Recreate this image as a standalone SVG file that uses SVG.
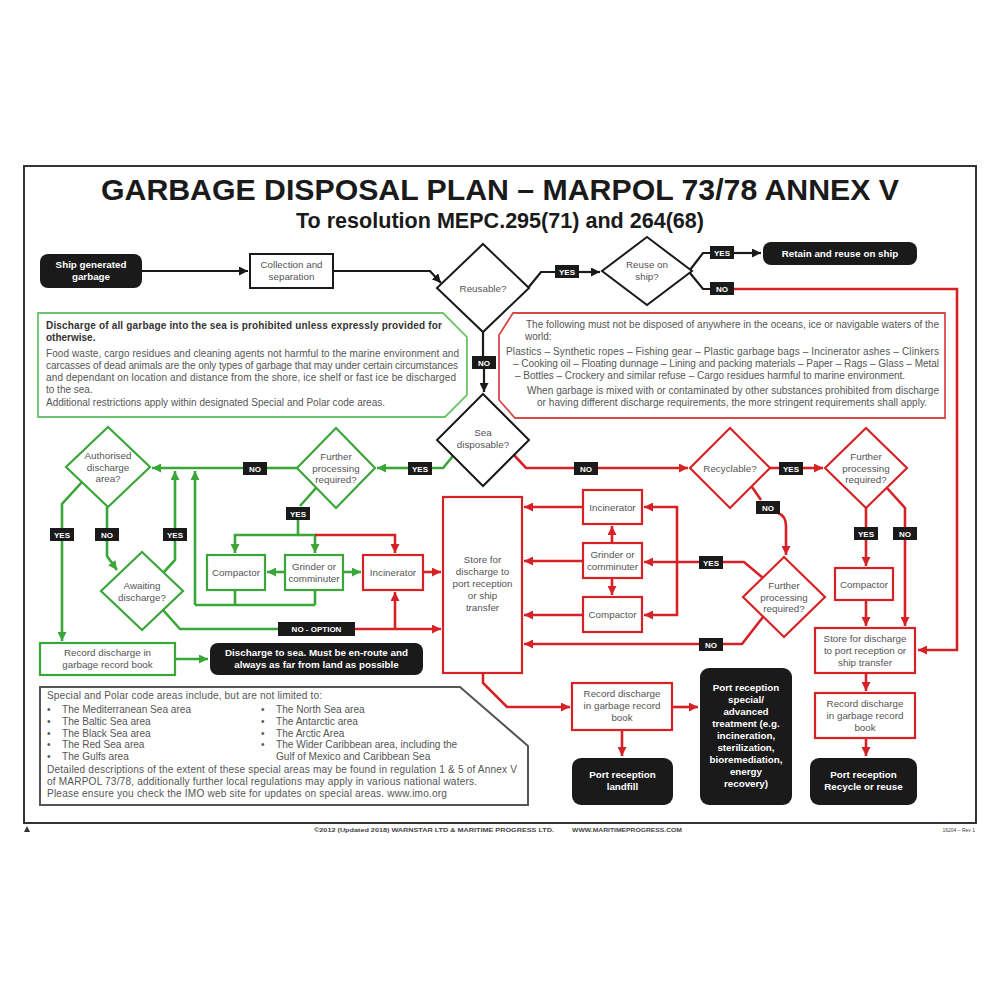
<svg xmlns="http://www.w3.org/2000/svg" width="1000" height="1000" viewBox="0 0 1000 1000">
<defs>
<style>
text{font-family:"Liberation Sans",Arial,sans-serif}
.t{font-size:9.8px;fill:#555;text-anchor:middle}
.tw{font-size:9.8px;fill:#fff;font-weight:bold;text-anchor:middle}
.lt{font-size:8px;fill:#fff;font-weight:bold;text-anchor:middle}
.lb{fill:#1a1a1a}
.k{stroke:#1a1a1a;stroke-width:2.2;fill:none}
.g{stroke:#3aa63a;stroke-width:2.6;fill:none}
.r{stroke:#d62226;stroke-width:2.6;fill:none}
.kb{stroke:#1a1a1a;stroke-width:2;fill:#fff}
.gb{stroke:#3aa63a;stroke-width:2.2;fill:#fff}
.rb{stroke:#d62226;stroke-width:2.2;fill:#fff}
.blk{fill:#1a1a1a}
.p{font-size:10px;fill:#555}
.pb{font-size:10px;fill:#333;font-weight:bold}
.s{font-size:10.1px;fill:#555}
</style>
<marker id="ak" viewBox="0 0 10 10" refX="10" refY="5" markerWidth="9" markerHeight="9" markerUnits="userSpaceOnUse" orient="auto"><path d="M0,0 L10,5 L0,10 z" fill="#1a1a1a"/></marker>
<marker id="ag" viewBox="0 0 10 10" refX="10" refY="5" markerWidth="9" markerHeight="9" markerUnits="userSpaceOnUse" orient="auto"><path d="M0,0 L10,5 L0,10 z" fill="#3aa63a"/></marker>
<marker id="ar" viewBox="0 0 10 10" refX="10" refY="5" markerWidth="9" markerHeight="9" markerUnits="userSpaceOnUse" orient="auto"><path d="M0,0 L10,5 L0,10 z" fill="#d62226"/></marker>
</defs>
<rect width="1000" height="1000" fill="#fff"/>
<rect x="24" y="166" width="952" height="657" fill="none" stroke="#333" stroke-width="2"/>
<text x="500" y="200" font-size="30" font-weight="bold" fill="#1a1a1a" text-anchor="middle" textLength="798" lengthAdjust="spacingAndGlyphs">GARBAGE DISPOSAL PLAN – MARPOL 73/78 ANNEX V</text>
<text x="500" y="228" font-size="22" font-weight="bold" fill="#1a1a1a" text-anchor="middle" textLength="408" lengthAdjust="spacingAndGlyphs">To resolution MEPC.295(71) and 264(68)</text>

<g id="connectors">
<path class="k" d="M142,271 H248" marker-end="url(#ak)"/>
<path class="k" d="M333,271 H430 L441,283" marker-end="url(#ak)"/>
<path class="k" d="M528,288 L541,272 H555"/>
<path class="k" d="M579,272 H600" marker-end="url(#ak)"/>
<path class="k" d="M690,270 L703,253 H710"/>
<path class="k" d="M734,253 H761" marker-end="url(#ak)"/>
<path class="k" d="M690,273 L703,289 H710"/>
<path class="r" d="M734,289 H957 V650 H918" marker-end="url(#ar)"/>
<path class="k" d="M483,332 V356"/>
<path class="k" d="M484,369 V392" marker-end="url(#ak)"/>
<path class="g" d="M453,456 L443,468 H432"/>
<path class="g" d="M408,468 H377" marker-end="url(#ag)"/>
<path class="g" d="M297,468 H267"/>
<path class="g" d="M243,468 H152" marker-end="url(#ag)"/>
<path class="g" d="M163,573 L175,560 V541"/>
<path class="g" d="M175,528 V471" marker-end="url(#ag)"/>
<path class="g" d="M195,605 V471" marker-end="url(#ag)"/>
<path class="g" d="M235,590 V605 M315,590 V605 M195,605 H315"/>
<path class="g" d="M82,482 L62,504 V528"/>
<path class="g" d="M62,541 V641" marker-end="url(#ag)"/>
<path class="g" d="M107,507 V528"/>
<path class="g" d="M107,541 V556 L117,570" marker-end="url(#ag)"/>
<path class="g" d="M316,488 L300,506"/>
<path class="g" d="M298,520 V535 H235 V553" marker-end="url(#ag)"/>
<path class="g" d="M298,535 H315 V553" marker-end="url(#ag)"/>
<path class="r" d="M315,535 H395 V553" marker-end="url(#ar)"/>
<path class="g" d="M285,572 H267" marker-end="url(#ag)"/>
<path class="g" d="M343,572 H361" marker-end="url(#ag)"/>
<path class="r" d="M423,572 H441" marker-end="url(#ar)"/>
<path class="g" d="M163,610 L180,629 H278"/>
<path class="r" d="M355,629 H441" marker-end="url(#ar)"/>
<path class="r" d="M395,629 V592" marker-end="url(#ar)"/>
<path class="g" d="M175,659 H208" marker-end="url(#ag)"/>
<path class="r" d="M514,455 L526,468 H574"/>
<path class="r" d="M598,468 H688" marker-end="url(#ar)"/>
<path class="r" d="M770,468 H780"/>
<path class="r" d="M803,468 H823" marker-end="url(#ar)"/>
<path class="r" d="M866,508 V527"/>
<path class="r" d="M866,540 V566" marker-end="url(#ar)"/>
<path class="r" d="M866,600 V626" marker-end="url(#ar)"/>
<path class="r" d="M887,488 L905,508 V527"/>
<path class="r" d="M905,540 V626" marker-end="url(#ar)"/>
<path class="r" d="M866,673 V691" marker-end="url(#ar)"/>
<path class="r" d="M866,738 V756" marker-end="url(#ar)"/>
<path class="r" d="M752,487 L761,500"/>
<path class="r" d="M778,513 Q786,516 786,526 V555" marker-end="url(#ar)"/>
<path class="r" d="M763,578 L744,562 H723"/>
<path class="r" d="M699,562 H644" marker-end="url(#ar)"/>
<path class="r" d="M677,562 V507 H644" marker-end="url(#ar)"/>
<path class="r" d="M677,562 V615 H644" marker-end="url(#ar)"/>
<path class="r" d="M763,617 L742,644 H723"/>
<path class="r" d="M699,644 H524" marker-end="url(#ar)"/>
<path class="r" d="M612,543 V526" marker-end="url(#ar)"/>
<path class="r" d="M612,578 V595" marker-end="url(#ar)"/>
<path class="r" d="M583,507 H524" marker-end="url(#ar)"/>
<path class="r" d="M583,561 H524" marker-end="url(#ar)"/>
<path class="r" d="M583,615 H524" marker-end="url(#ar)"/>
<path class="r" d="M483,673 V683 L507,707 H570" marker-end="url(#ar)"/>
<path class="r" d="M672,707 H698" marker-end="url(#ar)"/>
<path class="r" d="M622,730 V756" marker-end="url(#ar)"/>
</g>

<g id="labels">
<g><rect class="lb" x="555" y="265" width="24" height="13"/><text class="lt" x="567" y="274.5">YES</text></g>
<g><rect class="lb" x="710" y="246" width="24" height="13"/><text class="lt" x="722" y="255.5">YES</text></g>
<g><rect class="lb" x="710" y="282" width="24" height="13"/><text class="lt" x="722" y="291.5">NO</text></g>
<g><rect class="lb" x="472" y="356" width="24" height="13"/><text class="lt" x="484" y="365.5">NO</text></g>
<g><rect class="lb" x="408" y="462" width="24" height="13"/><text class="lt" x="420" y="471.5">YES</text></g>
<g><rect class="lb" x="243" y="462" width="24" height="13"/><text class="lt" x="255" y="471.5">NO</text></g>
<g><rect class="lb" x="50" y="528" width="24" height="13"/><text class="lt" x="62" y="537.5">YES</text></g>
<g><rect class="lb" x="95" y="528" width="24" height="13"/><text class="lt" x="107" y="537.5">NO</text></g>
<g><rect class="lb" x="163" y="528" width="24" height="13"/><text class="lt" x="175" y="537.5">YES</text></g>
<g><rect class="lb" x="286" y="507" width="24" height="13"/><text class="lt" x="298" y="516.5">YES</text></g>
<g><rect class="lb" x="278" y="622" width="77" height="14"/><text class="lt" x="316.5" y="632">NO - OPTION</text></g>
<g><rect class="lb" x="574" y="462" width="24" height="13"/><text class="lt" x="586" y="471.5">NO</text></g>
<g><rect class="lb" x="779" y="462" width="24" height="13"/><text class="lt" x="791" y="471.5">YES</text></g>
<g><rect class="lb" x="756" y="501" width="24" height="13"/><text class="lt" x="768" y="510.5">NO</text></g>
<g><rect class="lb" x="854" y="527" width="24" height="13"/><text class="lt" x="866" y="536.5">YES</text></g>
<g><rect class="lb" x="893" y="527" width="24" height="13"/><text class="lt" x="905" y="536.5">NO</text></g>
<g><rect class="lb" x="699" y="556" width="24" height="13"/><text class="lt" x="711" y="565.5">YES</text></g>
<g><rect class="lb" x="699" y="638" width="24" height="13"/><text class="lt" x="711" y="647.5">NO</text></g>
</g>

<g id="ship"><rect class="blk" x="40" y="254" width="102" height="34" rx="8"/><text class="tw" x="91" y="268">Ship generated</text><text class="tw" x="91" y="280">garbage</text></g>
<g id="collection"><rect class="kb" x="250" y="254" width="83" height="34"/><text class="t" x="291.5" y="268">Collection and</text><text class="t" x="291.5" y="280">separation</text></g>
<g id="reusable"><polygon class="kb" points="483,244 529,288 483,332 437,288"/><text class="t" x="483" y="291.5">Reusable?</text></g>
<g id="reuse"><polygon class="kb" points="647,237 692,271 647,305 602,271"/><text class="t" x="647" y="268">Reuse on</text><text class="t" x="647" y="279.5">ship?</text></g>
<g id="retain"><rect class="blk" x="763" y="242" width="154" height="23" rx="8"/><text class="tw" x="840" y="257">Retain and reuse on ship</text></g>

<g id="green-note">
<polygon points="38,313 443,313 467,337 467,395 445,417 38,417" fill="#fff" stroke="#6cc46c" stroke-width="1.8"/>
<text class="pb" x="46" y="329" textLength="396">Discharge of all garbage into the sea is prohibited unless expressly provided for</text>
<text class="pb" x="46" y="341">otherwise.</text>
<text class="p" x="46" y="357" textLength="413">Food waste, cargo residues and cleaning agents not harmful to the marine environment and</text>
<text class="p" x="46" y="369" textLength="412">carcasses of dead animals are the only types of garbage that may under certain circumstances</text>
<text class="p" x="46" y="381" textLength="410">and dependant on location and distance from the shore, ice shelf or fast ice be discharged</text>
<text class="p" x="46" y="393">to the sea.</text>
<text class="p" x="46" y="406" textLength="339">Additional restrictions apply within designated Special and Polar code areas.</text>
</g>

<g id="red-note">
<polygon points="513,313 945,313 945,418 515,418 499,400 499,335" fill="#fff" stroke="#d84a4a" stroke-width="1.8"/>
<text class="p" x="526" y="328" textLength="413">The following must not be disposed of anywhere in the oceans, ice or navigable waters of the</text>
<text class="p" x="525" y="340">world:</text>
<text class="p" x="506" y="355" textLength="433">Plastics – Synthetic ropes – Fishing gear – Plastic garbage bags – Incinerator ashes – Clinkers</text>
<text class="p" x="513" y="367" textLength="426">– Cooking oil – Floating dunnage – Lining and packing materials – Paper – Rags – Glass – Metal</text>
<text class="p" x="515" y="379" textLength="390">– Bottles – Crockery and similar refuse – Cargo residues harmful to marine environment.</text>
<text class="p" x="527" y="394" textLength="412">When garbage is mixed with or contaminated by other substances prohibited from discharge</text>
<text class="p" x="537" y="406" textLength="390">or having different discharge requirements, the more stringent requirements shall apply.</text>
</g>

<g id="sea"><polygon class="kb" points="483,394 529,440 483,486 437,440"/><text class="t" x="483" y="436">Sea</text><text class="t" x="483" y="448">disposable?</text></g>
<g id="further-g"><polygon class="gb" points="336,428 375,468 336,508 297,468"/><text class="t" x="336" y="460">Further</text><text class="t" x="336" y="471.5">processing</text><text class="t" x="336" y="483">required?</text></g>
<g id="authorised"><polygon class="gb" points="108,427 150,467 108,507 66,467"/><text class="t" x="108" y="459">Authorised</text><text class="t" x="108" y="470.5">discharge</text><text class="t" x="108" y="482">area?</text></g>
<g id="awaiting"><polygon class="gb" points="142,552 183,591 142,630 101,591"/><text class="t" x="142" y="589">Awaiting</text><text class="t" x="142" y="601">discharge?</text></g>
<g id="compactor-g"><rect class="gb" x="207" y="555" width="58" height="35"/><text class="t" x="236" y="576">Compactor</text></g>
<g id="grinder-g"><rect class="gb" x="285" y="555" width="58" height="35"/><text class="t" x="314" y="570">Grinder or</text><text class="t" x="314" y="582">comminuter</text></g>
<g id="incinerator-l"><rect class="rb" x="363" y="555" width="60" height="35"/><text class="t" x="393" y="576">Incinerator</text></g>
<g id="record-g"><rect class="gb" x="40" y="643" width="135" height="32"/><text class="t" x="107.5" y="656">Record discharge in</text><text class="t" x="107.5" y="668">garbage record book</text></g>
<g id="discharge-sea"><rect class="blk" x="210" y="643" width="213" height="32" rx="8"/><text class="tw" x="316.5" y="656">Discharge to sea.  Must be en-route and</text><text class="tw" x="316.5" y="668">always as far from land as possible</text></g>

<g id="store-c"><rect class="rb" x="443" y="497" width="79" height="176"/><text class="t" x="482.5" y="563">Store for</text><text class="t" x="482.5" y="575">discharge to</text><text class="t" x="482.5" y="587">port reception</text><text class="t" x="482.5" y="599">or ship</text><text class="t" x="482.5" y="611">transfer</text></g>
<g id="incinerator-c"><rect class="rb" x="583" y="490" width="59" height="34"/><text class="t" x="612.5" y="510.5">Incinerator</text></g>
<g id="grinder-c"><rect class="rb" x="583" y="543" width="59" height="35"/><text class="t" x="612.5" y="558">Grinder or</text><text class="t" x="612.5" y="570">comminuter</text></g>
<g id="compactor-c"><rect class="rb" x="583" y="597" width="59" height="35"/><text class="t" x="612.5" y="618">Compactor</text></g>
<g id="recyclable"><polygon class="rb" points="730,428 770,468 730,508 690,468"/><text class="t" x="730" y="471.5">Recyclable?</text></g>
<g id="further-r"><polygon class="rb" points="866,428 907,468 866,508 825,468"/><text class="t" x="866" y="460">Further</text><text class="t" x="866" y="471.5">processing</text><text class="t" x="866" y="483">required?</text></g>
<g id="further-c"><polygon class="rb" points="784,557 825,597 784,637 743,597"/><text class="t" x="784" y="589">Further</text><text class="t" x="784" y="600.5">processing</text><text class="t" x="784" y="612">required?</text></g>
<g id="compactor-r"><rect class="rb" x="835" y="568" width="58" height="32"/><text class="t" x="864" y="587.5">Compactor</text></g>
<g id="store-r"><rect class="rb" x="815" y="628" width="100" height="45"/><text class="t" x="865" y="642">Store for discharge</text><text class="t" x="865" y="654">to port reception or</text><text class="t" x="865" y="666">ship transfer</text></g>
<g id="record-r"><rect class="rb" x="815" y="693" width="100" height="45"/><text class="t" x="865" y="707">Record discharge</text><text class="t" x="865" y="719">in garbage record</text><text class="t" x="865" y="731">book</text></g>
<g id="recycle"><rect class="blk" x="810" y="758" width="107" height="47" rx="9"/><text class="tw" x="863.5" y="778">Port reception</text><text class="tw" x="863.5" y="790">Recycle or reuse</text></g>
<g id="record-c"><rect class="rb" x="572" y="683" width="100" height="47"/><text class="t" x="622" y="697">Record discharge</text><text class="t" x="622" y="709">in garbage record</text><text class="t" x="622" y="721">book</text></g>
<g id="landfill"><rect class="blk" x="572" y="758" width="101" height="47" rx="9"/><text class="tw" x="622.5" y="778">Port reception</text><text class="tw" x="622.5" y="790">landfill</text></g>
<g id="special"><rect class="blk" x="700" y="668" width="92" height="137" rx="9"/>
<text class="tw" x="746" y="691">Port reception</text><text class="tw" x="746" y="703">special/</text><text class="tw" x="746" y="715">advanced</text><text class="tw" x="746" y="727">treatment (e.g.</text><text class="tw" x="746" y="739">incineration,</text><text class="tw" x="746" y="751">sterilization,</text><text class="tw" x="746" y="763">bioremediation,</text><text class="tw" x="746" y="775">energy</text><text class="tw" x="746" y="787">recovery)</text></g>

<g id="areas">
<polygon points="40,687 460,687 528,746 528,805 40,805" fill="#fff" stroke="#555" stroke-width="2"/>
<text class="s" x="47" y="699" textLength="275">Special and Polar code areas include, but are not limited to:</text>
<text class="s" x="47" y="713">•</text><text class="s" x="62" y="713">The Mediterranean Sea area</text>
<text class="s" x="47" y="725">•</text><text class="s" x="62" y="725">The Baltic Sea area</text>
<text class="s" x="47" y="737">•</text><text class="s" x="62" y="737">The Black Sea area</text>
<text class="s" x="47" y="748">•</text><text class="s" x="62" y="748">The Red Sea area</text>
<text class="s" x="47" y="760">•</text><text class="s" x="62" y="760">The Gulfs area</text>
<text class="s" x="261" y="713">•</text><text class="s" x="276" y="713">The North Sea area</text>
<text class="s" x="261" y="725">•</text><text class="s" x="276" y="725">The Antarctic area</text>
<text class="s" x="261" y="737">•</text><text class="s" x="276" y="737">The Arctic Area</text>
<text class="s" x="261" y="748">•</text><text class="s" x="276" y="748">The Wider Caribbean area, including the</text>
<text class="s" x="276" y="760">Gulf of Mexico and Caribbean Sea</text>
<text class="s" x="47" y="773" textLength="470">Detailed descriptions of the extent of these special areas may be found in regulation 1 &amp; 5 of Annex V</text>
<text class="s" x="47" y="785" textLength="430">of MARPOL 73/78, additionally further local regulations may apply in various national waters.</text>
<text class="s" x="47" y="797" textLength="400">Please ensure you check the IMO web site for updates on special areas. www.imo.org</text>
</g>

<g id="footer">
<polygon points="27,826 30,832 24,832" fill="#333"/>
<text x="434" y="832" font-size="6" font-weight="bold" fill="#444" text-anchor="middle" textLength="240" lengthAdjust="spacingAndGlyphs">©2012 (Updated 2018) WARNSTAR LTD &amp; MARITIME PROGRESS LTD.</text>
<text x="627" y="832" font-size="6" font-weight="bold" fill="#444" text-anchor="middle" textLength="110" lengthAdjust="spacingAndGlyphs">WWW.MARITIMEPROGRESS.COM</text>
<text x="975" y="832" font-size="5" fill="#444" text-anchor="end">16204 – Rev 1</text>
</g>
</svg>
